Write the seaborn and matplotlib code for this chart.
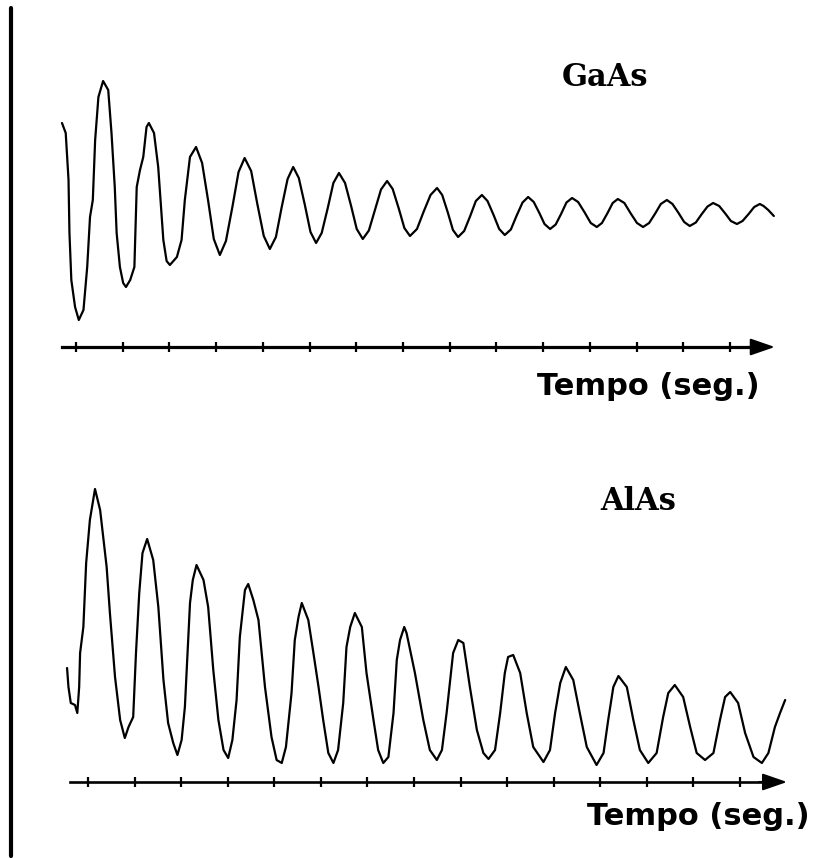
import matplotlib
matplotlib.use("Agg")
import matplotlib.pyplot as plt
import seaborn as sns
import pandas as pd
from matplotlib.lines import Line2D

# ---------------- data ----------------
# time in tick units (tick 1..15), intensity in arbitrary units above the time axis
tick_times = [1, 2, 3, 4, 5, 6, 7, 8, 9, 10, 11, 12, 13, 14, 15]

gaas_time = [0.70, 0.78, 0.84, 0.86, 0.90, 0.98, 1.06,
             1.16, 1.24, 1.30, 1.36, 1.41, 1.48, 1.58,
             1.69, 1.76, 1.83, 1.87, 1.94, 2.01, 2.07,
             2.16, 2.25, 2.30, 2.37, 2.44, 2.51, 2.56,
             2.67, 2.76, 2.87, 2.94, 3.01,
             3.16, 3.26, 3.33, 3.44, 3.57,
             3.70, 3.83, 3.95, 4.08,
             4.21, 4.35, 4.48, 4.61,
             4.75, 4.88, 5.02, 5.15,
             5.28, 5.40, 5.53, 5.65,
             5.77, 5.90, 6.02, 6.14,
             6.26, 6.39, 6.51, 6.63,
             6.76, 6.89, 7.01, 7.14,
             7.27, 7.40, 7.53, 7.66,
             7.78, 7.91, 8.03, 8.15,
             8.30, 8.44, 8.59, 8.73,
             8.84, 8.96, 9.07, 9.18,
             9.31, 9.44, 9.56, 9.69,
             9.81, 9.94, 10.06, 10.18,
             10.31, 10.43, 10.56, 10.68,
             10.80, 10.92, 11.03, 11.15,
             11.27, 11.39, 11.50, 11.62,
             11.75, 11.89, 12.02, 12.15,
             12.26, 12.38, 12.49, 12.60,
             12.74, 12.87, 13.01, 13.14,
             13.27, 13.40, 13.52, 13.65,
             13.77, 13.90, 14.02, 14.14,
             14.27, 14.39, 14.52, 14.64,
             14.77, 14.90, 15.02, 15.15,
             15.27, 15.40, 15.52, 15.64,
             15.72, 15.82, 15.94]

gaas_intensity = [22.4, 21.4, 16.7, 11.4, 6.7, 4.0, 2.7,
                  3.7, 8.0, 13.0, 14.7, 20.7, 25.0, 26.6,
                  25.7, 21.4, 16.0, 11.4, 8.0, 6.4, 6.0,
                  6.7, 8.0, 16.0, 17.7, 19.0, 22.0, 22.4,
                  21.4, 18.0, 10.7, 8.6, 8.2,
                  9.0, 10.7, 14.7, 19.0, 20.0,
                  18.4, 14.6, 10.8, 9.2,
                  10.6, 14.05, 17.5, 18.9,
                  17.6, 14.35, 11.1, 9.8,
                  11.0, 13.9, 16.8, 18.0,
                  16.9, 14.2, 11.5, 10.4,
                  11.4, 13.9, 16.4, 17.4,
                  16.4, 14.1, 11.8, 10.8,
                  11.65, 13.7, 15.75, 16.6,
                  15.8, 13.85, 11.9, 11.1,
                  11.8, 13.5, 15.2, 15.9,
                  15.2, 13.45, 11.7, 11.0,
                  11.6, 13.1, 14.6, 15.2,
                  14.6, 13.2, 11.8, 11.2,
                  11.75, 13.1, 14.45, 15.0,
                  14.5, 13.4, 12.3, 11.8,
                  12.25, 13.35, 14.45, 14.9,
                  14.5, 13.45, 12.4, 12.0,
                  12.4, 13.4, 14.4, 14.8,
                  14.4, 13.4, 12.4, 12.0,
                  12.4, 13.35, 14.3, 14.7,
                  14.3, 13.4, 12.5, 12.1,
                  12.45, 13.25, 14.05, 14.4,
                  14.1, 13.35, 12.6, 12.3,
                  12.6, 13.3, 14.0, 14.3,
                  14.1, 13.7, 13.1]

alas_time = [0.55, 0.58, 0.63, 0.72, 0.77, 0.81, 0.83, 0.90, 0.96, 1.04, 1.15,
             1.26, 1.40, 1.47, 1.58, 1.69, 1.79,
             1.87, 1.97, 2.03, 2.10, 2.17, 2.27,
             2.40, 2.51, 2.62, 2.72, 2.83, 2.92,
             3.01, 3.08, 3.19, 3.25, 3.33,
             3.48, 3.58, 3.69, 3.80, 3.91, 4.01,
             4.10, 4.19, 4.26, 4.37, 4.44,
             4.55, 4.66, 4.80, 4.94, 5.05, 5.16,
             5.25, 5.37, 5.44, 5.52, 5.59,
             5.73, 5.84, 5.95, 6.05, 6.16, 6.27,
             6.37, 6.48, 6.55, 6.63, 6.73,
             6.88, 6.98, 7.13, 7.23, 7.34,
             7.45, 7.56, 7.63, 7.70, 7.79,
             7.84, 8.02, 8.20, 8.34, 8.49,
             8.60, 8.70, 8.77, 8.84, 8.95,
             9.06, 9.20, 9.35, 9.49, 9.60,
             9.74, 9.85, 9.95, 10.02, 10.13,
             10.28, 10.42, 10.56, 10.78,
             10.92, 11.03, 11.14, 11.26,
             11.42, 11.56, 11.71, 11.92,
             12.07, 12.17, 12.28, 12.39,
             12.57, 12.71, 12.85, 13.03,
             13.21, 13.35, 13.46, 13.60,
             13.78, 13.93, 14.07, 14.25,
             14.43, 14.57, 14.68, 14.79,
             14.96, 15.11, 15.29, 15.47,
             15.61, 15.75, 15.86, 15.97]

alas_intensity = [11.4, 9.5, 7.9, 7.7, 6.9, 9.5, 12.9, 15.5, 21.9, 26.2, 29.3,
                  27.2, 21.5, 16.9, 10.5, 6.2, 4.4,
                  5.5, 6.5, 12.9, 18.9, 22.9, 24.3,
                  22.2, 17.5, 10.2, 5.9, 3.9, 2.7,
                  4.2, 7.5, 17.9, 20.2, 21.7,
                  20.2, 17.5, 11.2, 6.2, 3.2, 2.4,
                  4.2, 8.2, 14.5, 19.2, 19.8,
                  18.2, 16.2, 9.5, 4.5, 2.2, 1.9,
                  3.5, 8.9, 14.2, 16.5, 17.9,
                  16.2, 12.9, 9.5, 6.2, 2.9, 1.9,
                  3.2, 7.9, 13.5, 15.5, 16.9,
                  15.5, 10.9, 6.2, 3.2, 1.9,
                  2.5, 6.9, 12.2, 14.2, 15.5,
                  14.9, 10.9, 6.2, 3.2, 2.2,
                  3.2, 6.9, 9.9, 12.9, 14.2,
                  13.9, 9.5, 5.2, 2.9, 2.3,
                  3.2, 6.9, 10.9, 12.5, 12.7,
                  10.9, 6.9, 3.5, 2.0,
                  3.2, 6.9, 9.9, 11.5,
                  10.2, 6.9, 3.5, 1.7,
                  2.9, 6.2, 9.5, 10.6,
                  9.5, 6.2, 3.2, 1.9,
                  2.9, 6.5, 8.9, 9.7,
                  8.5, 5.5, 2.9, 2.2,
                  2.9, 6.2, 8.5, 9.0,
                  7.9, 4.9, 2.5, 1.9,
                  2.9, 5.5, 6.9, 8.2]

panel_titles = ["GaAs", "AlAs"]
axis_label = "Tempo (seg.)"

# ---------------- figure ----------------
sns.set_theme(style="white")
plt.rcParams["font.family"] = ["DejaVu Sans"]
plt.rcParams["text.color"] = "black"

fig = plt.figure(figsize=(8.22, 8.58), dpi=100)
fig.patch.set_facecolor("white")

panels = [
    dict(df=pd.DataFrame({"t": gaas_time, "I": gaas_intensity}),
         rect=[0.0, 0.5, 1.0, 0.5], xlim=(-0.627, 16.971), ylim=(-8.2, 34.7),
         axis_span=(0.70, 15.96), spine_w=2.3, title=panel_titles[0],
         title_pos=(0.736, 0.82), label_pos=(0.789, 0.098)),
    dict(df=pd.DataFrame({"t": alas_time, "I": alas_intensity}),
         rect=[0.0, 0.0, 1.0, 0.5], xlim=(-0.890, 16.761), ylim=(-7.6, 35.3),
         axis_span=(0.61, 16.01), spine_w=1.9, title=panel_titles[1],
         title_pos=(0.776, 0.83), label_pos=(0.849, 0.0956)),
]

for p in panels:
    ax = fig.add_axes(p["rect"])
    ax.set_facecolor("none")
    sns.lineplot(data=p["df"], x="t", y="I", ax=ax, color="black", lw=1.6,
                 sort=False, estimator=None, solid_joinstyle="round",
                 solid_capstyle="round")
    ax.set_xlim(*p["xlim"])
    ax.set_ylim(*p["ylim"])
    ax.set_xlabel("")
    ax.set_ylabel("")
    for s in ["top", "right", "left"]:
        ax.spines[s].set_visible(False)
    sp = ax.spines["bottom"]
    sp.set_visible(True)
    sp.set_position(("data", 0))
    sp.set_color("black")
    sp.set_linewidth(p["spine_w"])
    t0, t1 = p["axis_span"]
    sp.set_bounds(t0, t1 - 0.4)
    ax.set_xticks(tick_times)
    ax.set_xticklabels([])
    ax.set_yticks([])
    ax.tick_params(axis="x", bottom=True, direction="inout", length=7,
                   width=1.6, color="black")
    ax.annotate("", xy=(t1, 0), xytext=(t1 - 0.6, 0),
                arrowprops=dict(arrowstyle="-|>,head_length=0.75,head_width=0.26",
                                mutation_scale=20, color="black", lw=1.5,
                                shrinkA=0, shrinkB=0))
    ax.text(*p["title_pos"], p["title"], transform=ax.transAxes, ha="center",
            va="center", fontsize=22, fontweight="bold", family="DejaVu Serif",
            color="black")
    ax.text(*p["label_pos"], axis_label, transform=ax.transAxes, ha="center",
            va="center", fontsize=22, fontweight="bold", family="DejaVu Sans",
            color="black")

# left vertical frame line
fig.add_artist(Line2D([11 / 822, 11 / 822], [1 - 8 / 858, 1 - 856 / 858],
                      transform=fig.transFigure, color="black", lw=3.0))

fig.savefig("out.png", dpi=100, facecolor="white")
